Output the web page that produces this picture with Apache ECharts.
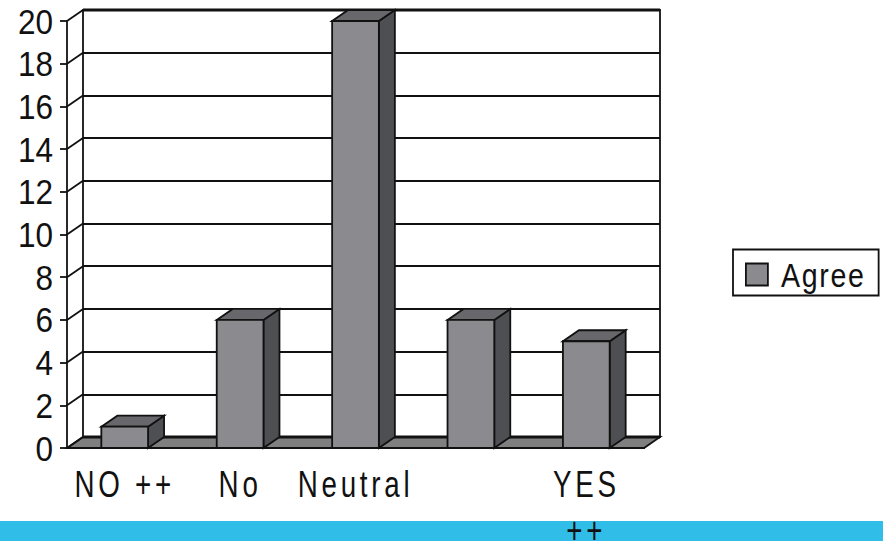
<!DOCTYPE html>
<html>
<head>
<meta charset="utf-8">
<style>
html,body{margin:0;padding:0;background:#fff}
#c{width:883px;height:541px}
</style>
<script src="https://cdn.jsdelivr.net/npm/echarts@6/dist/echarts.min.js"></script>
</head>
<body>
<div id="c"></div>
<script>
const categories = ['NO ++', 'No', 'Neutral', '', 'YES\n++'];
const agree = [1, 6, 20, 6, 5];
const yTicks = [0, 2, 4, 6, 8, 10, 12, 14, 16, 18, 20];
const seriesName = 'Agree';

const DX = 16, DY = -11;
const FRONT = '#8b8b8f', TOP = '#68686c', SIDE = '#4e4f52', FLOOR = '#7f7f7f', INK = '#111';
const FONT = '"Liberation Sans",Arial,sans-serif';
const lw = 1.8;

function poly(points, fill) {
  return {type: 'polygon', shape: {points}, style: {fill, stroke: INK, lineWidth: lw, lineJoin: 'miter'}};
}

const chart = echarts.init(document.getElementById('c'), null, {renderer: 'svg', width: 883, height: 541});

// The reference uses a condensed face; none is installed, so the real text is narrowed in the SVG.
const narrow = {35: {scale: 0.9, spacing: 0}, 37: {scale: 0.75, spacing: 5}, 34: {scale: 0.84, spacing: 2}};
function narrowText() {
  document.querySelectorAll('#c svg text').forEach(el => {
    const cfg = narrow[parseFloat(getComputedStyle(el).fontSize)];
    if (!cfg || !el.textContent) return;
    el.removeAttribute('textLength');
    el.style.letterSpacing = cfg.spacing + 'px';
    const len = el.getComputedTextLength();
    el.setAttribute('lengthAdjust', 'spacingAndGlyphs');
    el.setAttribute('textLength', (len * cfg.scale).toFixed(2));
  });
}
chart.on('finished', narrowText);

chart.setOption({
  animation: false,
  backgroundColor: '#fff',
  graphic: [{type: 'rect', z: -10, silent: true, shape: {x: 0, y: 521, width: 883, height: 20}, style: {fill: '#30bde8'}}],
  legend: {
    data: [seriesName], left: 733, top: 249.5, orient: 'horizontal', padding: [8, 7, 4, 12],
    borderColor: INK, borderWidth: lw, itemWidth: 22, itemHeight: 22, itemGap: 0, icon: 'rect',
    selectedMode: false,
    itemStyle: {color: FRONT, borderColor: INK, borderWidth: lw},
    textStyle: {fontFamily: FONT, fontSize: 34, color: '#111', padding: [0, 0, 0, 8]}
  },
  grid: [
    {left: 83, top: 10, width: 577, height: 427, show: true, borderColor: INK, borderWidth: lw, backgroundColor: 'transparent', outerBoundsMode: 'none'},
    {left: 67, top: 21, width: 577, height: 427, outerBoundsMode: 'none'}
  ],
  xAxis: [
    {gridIndex: 0, type: 'category', data: categories, axisLabel: {show: false}, axisTick: {show: false}, axisLine: {show: false}},
    {gridIndex: 1, type: 'category', data: categories,
      axisLine: {lineStyle: {color: INK, width: lw}},
      axisTick: {length: 7, lineStyle: {color: INK, width: lw}},
      axisLabel: {interval: 0, fontFamily: FONT, fontSize: 37, color: '#111', lineHeight: 46, margin: 13}}
  ],
  yAxis: [
    {gridIndex: 0, type: 'value', min: 0, max: 20, interval: 2, axisLabel: {show: false}, axisTick: {show: false}, axisLine: {show: false},
      splitLine: {show: true, lineStyle: {color: INK, width: lw}}},
    {gridIndex: 1, type: 'value', min: 0, max: 20, interval: 2, splitLine: {show: false},
      axisLine: {show: true, lineStyle: {color: INK, width: lw}},
      axisTick: {show: true, length: 7, lineStyle: {color: INK, width: lw}},
      axisLabel: {fontFamily: FONT, fontSize: 35, lineHeight: 30, color: '#111', margin: 14, verticalAlignMaxLabel: 'middle'}}
  ],
  series: [
    {
      type: 'custom', name: 'frame', xAxisIndex: 1, yAxisIndex: 1, z: 2, silent: true,
      data: yTicks.map(v => [0, v]),
      renderItem(params, api) {
        const c = params.coordSys;
        const v = api.value(1);
        const y = api.coord([0, v])[1];
        const kids = [{type: 'line', shape: {x1: c.x, y1: y, x2: c.x + DX, y2: y + DY}, style: {stroke: INK, lineWidth: lw}}];
        if (v === 0) {
          kids.unshift(poly([[c.x, y], [c.x + c.width, y], [c.x + c.width + DX, y + DY], [c.x + DX, y + DY]], FLOOR));
        }
        if (v === 0 || v === 20) {
          kids.push({type: 'line', shape: {x1: c.x + DX, y1: y + DY, x2: c.x + c.width + DX, y2: y + DY}, style: {stroke: INK, lineWidth: 2.8}});
        }
        return {type: 'group', children: kids};
      }
    },
    {
      type: 'custom', name: seriesName, xAxisIndex: 1, yAxisIndex: 1, z: 3, silent: true,
      itemStyle: {color: FRONT},
      data: agree.map((v, i) => [i, v]),
      renderItem(params, api) {
        const top = api.coord([api.value(0), api.value(1)]);
        const base = api.coord([api.value(0), 0]);
        const w = api.size([1, 0])[0] * 0.405;
        const l = top[0] - w / 2, r = top[0] + w / 2, t = top[1], b = base[1];
        return {type: 'group', children: [
          poly([[r, t], [r + DX, t + DY], [r + DX, b + DY], [r, b]], SIDE),
          poly([[l, t], [l + DX, t + DY], [r + DX, t + DY], [r, t]], TOP),
          poly([[l, t], [r, t], [r, b], [l, b]], FRONT)
        ]};
      }
    }
  ]
});
narrowText();
</script>
</body>
</html>
